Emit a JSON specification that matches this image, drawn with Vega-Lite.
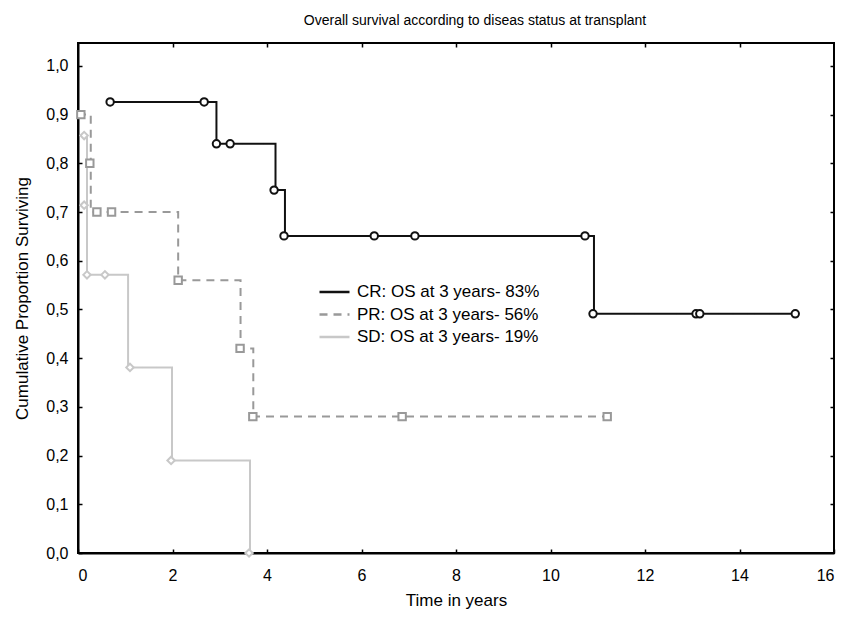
{
  "$schema": "https://vega.github.io/schema/vega-lite/v6.json",
  "autosize": "none",
  "width": 756,
  "height": 510,
  "padding": {"left": 78, "top": 43, "right": 22, "bottom": 64},
  "background": "white",
  "config": {
    "font": "Liberation Sans",
    "view": {"stroke": "#000", "strokeWidth": 2},
    "axis": {"grid": false, "domainColor": "#000", "domainWidth": 2, "tickColor": "#000", "tickWidth": 1.5, "labelColor": "#000", "titleColor": "#000", "labelFont": "Liberation Sans", "titleFont": "Liberation Sans", "labelFontSize": 16, "titleFontSize": 17, "titleFontWeight": "normal"},
    "legend": {"labelFont": "Liberation Sans"}
  },
  "title": {"text": "Overall survival according to diseas status at transplant", "fontSize": 14, "fontWeight": "normal", "color": "#000", "offset": 14, "dx": 19},
  "datasets": {
    "lines": [
      {"series": "CR: OS at 3 years- 83%", "t": 0.68, "s": 0.926},
      {"series": "CR: OS at 3 years- 83%", "t": 2.93, "s": 0.840},
      {"series": "CR: OS at 3 years- 83%", "t": 4.18, "s": 0.745},
      {"series": "CR: OS at 3 years- 83%", "t": 4.38, "s": 0.651},
      {"series": "CR: OS at 3 years- 83%", "t": 10.92, "s": 0.491},
      {"series": "CR: OS at 3 years- 83%", "t": 15.18, "s": 0.491},
      {"series": "PR: OS at 3 years- 56%", "t": 0.0, "s": 0.90},
      {"series": "PR: OS at 3 years- 56%", "t": 0.27, "s": 0.70},
      {"series": "PR: OS at 3 years- 56%", "t": 2.12, "s": 0.56},
      {"series": "PR: OS at 3 years- 56%", "t": 3.44, "s": 0.42},
      {"series": "PR: OS at 3 years- 56%", "t": 3.71, "s": 0.28},
      {"series": "PR: OS at 3 years- 56%", "t": 11.2, "s": 0.28},
      {"series": "SD: OS at 3 years- 19%", "t": 0.13, "s": 0.857},
      {"series": "SD: OS at 3 years- 19%", "t": 0.19, "s": 0.571},
      {"series": "SD: OS at 3 years- 19%", "t": 1.06, "s": 0.381},
      {"series": "SD: OS at 3 years- 19%", "t": 1.99, "s": 0.19},
      {"series": "SD: OS at 3 years- 19%", "t": 3.64, "s": 0.0}
    ],
    "points": [
      {"group": "CR", "t": 0.68, "s": 0.926},
      {"group": "CR", "t": 2.67, "s": 0.926},
      {"group": "CR", "t": 2.93, "s": 0.840},
      {"group": "CR", "t": 3.22, "s": 0.840},
      {"group": "CR", "t": 4.15, "s": 0.745},
      {"group": "CR", "t": 4.36, "s": 0.651},
      {"group": "CR", "t": 6.27, "s": 0.651},
      {"group": "CR", "t": 7.13, "s": 0.651},
      {"group": "CR", "t": 10.73, "s": 0.651},
      {"group": "CR", "t": 10.9, "s": 0.491},
      {"group": "CR", "t": 13.08, "s": 0.491},
      {"group": "CR", "t": 13.16, "s": 0.491},
      {"group": "CR", "t": 15.18, "s": 0.491},
      {"group": "PR", "t": 0.06, "s": 0.90},
      {"group": "PR", "t": 0.25, "s": 0.80},
      {"group": "PR", "t": 0.40, "s": 0.70},
      {"group": "PR", "t": 0.71, "s": 0.70},
      {"group": "PR", "t": 2.12, "s": 0.56},
      {"group": "PR", "t": 3.43, "s": 0.42},
      {"group": "PR", "t": 3.70, "s": 0.28},
      {"group": "PR", "t": 6.86, "s": 0.28},
      {"group": "PR", "t": 11.2, "s": 0.28},
      {"group": "SD", "t": 0.13, "s": 0.857},
      {"group": "SD", "t": 0.13, "s": 0.714},
      {"group": "SD", "t": 0.19, "s": 0.571},
      {"group": "SD", "t": 0.57, "s": 0.571},
      {"group": "SD", "t": 1.10, "s": 0.381},
      {"group": "SD", "t": 1.97, "s": 0.19},
      {"group": "SD", "t": 3.62, "s": 0.0}
    ]
  },
  "layer": [
    {
      "data": {"name": "lines"},
      "mark": {"type": "line", "interpolate": "step-after", "strokeWidth": 2},
      "encoding": {
        "x": {"field": "t", "type": "quantitative", "scale": {"domain": [0, 16], "nice": false},
              "axis": {"title": "Time in years", "values": [0,2,4,6,8,10,12,14,16], "tickSize": -4, "labelPadding": 18, "titlePadding": 9}},
        "y": {"field": "s", "type": "quantitative", "scale": {"domain": [0, 1.047], "nice": false, "zero": false},
              "axis": {"title": "Cumulative Proportion Surviving", "values": [0,0.1,0.2,0.3,0.4,0.5,0.6,0.7,0.8,0.9,1.0], "labelExpr": "replace(format(datum.value, '.1f'), '.', ',')", "tickSize": -4, "labelPadding": 14, "titlePadding": 14}},
        "color": {"field": "series", "type": "nominal",
                  "scale": {"domain": ["CR: OS at 3 years- 83%", "PR: OS at 3 years- 56%", "SD: OS at 3 years- 19%"], "range": ["#111111", "#999999", "#c8c8c8"]},
                  "legend": {"title": null, "orient": "none", "legendX": 240, "legendY": 239, "symbolType": "stroke", "symbolSize": 900, "symbolStrokeWidth": 2.5, "labelFontSize": 17, "labelColor": "#000", "labelLimit": 400, "clipHeight": 20, "rowPadding": 2.5, "labelOffset": 6}},
        "strokeDash": {"field": "series", "type": "nominal",
                  "scale": {"domain": ["CR: OS at 3 years- 83%", "PR: OS at 3 years- 56%", "SD: OS at 3 years- 19%"], "range": [[1, 0], [8, 6], [1, 0]]},
                  "legend": {"title": null}}
      }
    },
    {
      "data": {"name": "points"},
      "mark": {"type": "point", "filled": false, "strokeWidth": 2, "size": 55, "fill": "white", "fillOpacity": 1},
      "encoding": {
        "x": {"field": "t", "type": "quantitative", "axis": null},
        "y": {"field": "s", "type": "quantitative", "axis": null},
        "stroke": {"field": "group", "type": "nominal",
                  "scale": {"domain": ["CR", "PR", "SD"], "range": ["#111111", "#999999", "#c8c8c8"]},
                  "legend": null},
        "shape": {"field": "group", "type": "nominal",
                  "scale": {"domain": ["CR", "PR", "SD"], "range": ["circle", "square", "diamond"]},
                  "legend": null}
      }
    },
    {
      "data": {"name": "lines"},
      "mark": {"type": "line", "opacity": 0},
      "encoding": {
        "x": {"field": "t", "type": "quantitative", "axis": {"orient": "top", "title": null, "labels": false, "values": [2,4,6,8,10,12,14], "tickSize": -4, "domain": false}},
        "y": {"field": "s", "type": "quantitative", "axis": {"orient": "right", "title": null, "labels": false, "values": [0.1,0.2,0.3,0.4,0.5,0.6,0.7,0.8,0.9,1.0], "tickSize": -4, "domain": false}},
        "detail": {"field": "series", "type": "nominal"}
      }
    }
  ],
  "resolve": {"axis": {"x": "independent", "y": "independent"}}
}
